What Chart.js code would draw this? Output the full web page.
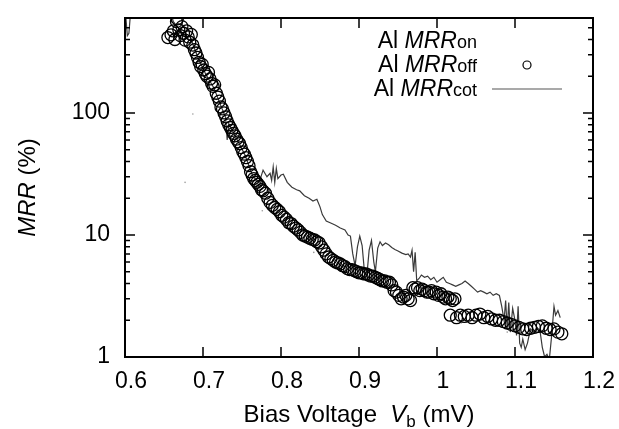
<!DOCTYPE html>
<html>
<head>
<meta charset="utf-8">
<script src="https://cdn.jsdelivr.net/npm/chart.js@4.4.1/dist/chart.umd.min.js"></script>
<style>
  body { margin: 0; background: #fff; }
  canvas { display: block; }
</style>
</head>
<body>
<canvas id="mrrChart" width="619" height="429"></canvas>
<script>
// axis ticks
const xTicks = [0.6, 0.7, 0.8, 0.9, 1.0, 1.1, 1.2];
const yMajor = [1, 10, 100];
const yMinor = [2, 3, 4, 5, 6, 7, 8, 9, 20, 30, 40, 50, 60, 70, 80, 90, 200, 300, 400, 500];

// Al MRR_off (circles)
const offX = [0.655, 0.659, 0.662, 0.664, 0.666, 0.667, 0.669, 0.671, 0.673, 0.675, 0.677, 0.679, 0.681, 0.683, 0.685, 0.687,
  0.689, 0.691, 0.693, 0.695, 0.697, 0.699, 0.701, 0.703, 0.705, 0.707, 0.709, 0.711, 0.713, 0.715, 0.717, 0.719,
  0.721, 0.723, 0.725, 0.727, 0.729, 0.731, 0.733, 0.735, 0.737, 0.739, 0.741, 0.743, 0.745, 0.747, 0.749, 0.751,
  0.753, 0.755, 0.757, 0.759, 0.761, 0.763, 0.765, 0.767, 0.769, 0.771, 0.773, 0.775, 0.777, 0.780, 0.783, 0.786,
  0.789, 0.792, 0.795, 0.798, 0.801, 0.804, 0.807, 0.810, 0.813, 0.816, 0.819, 0.822, 0.825, 0.828, 0.831, 0.834,
  0.837, 0.840, 0.843, 0.846, 0.849, 0.852, 0.855, 0.858, 0.861, 0.864, 0.867, 0.870, 0.873, 0.876, 0.879, 0.882,
  0.885, 0.888, 0.891, 0.894, 0.897, 0.900, 0.903, 0.906, 0.909, 0.912, 0.915, 0.918, 0.921, 0.924, 0.927, 0.930,
  0.933, 0.936, 0.939, 0.942, 0.945, 0.948, 0.951, 0.954, 0.957, 0.960, 0.963, 0.966, 0.969, 0.972, 0.975, 0.978,
  0.981, 0.984, 0.987, 0.990, 0.993, 0.996, 0.999, 1.002, 1.005, 1.008, 1.011, 1.014, 1.017, 1.020, 1.023,
  1.017, 1.025, 1.030, 1.035, 1.040, 1.045, 1.050, 1.055, 1.060, 1.065, 1.070, 1.075, 1.080, 1.085, 1.090, 1.095,
  1.100, 1.105, 1.110, 1.115, 1.120, 1.125, 1.130, 1.135, 1.140, 1.145, 1.150, 1.155, 1.160];
const offY = [415, 437, 470, 400, 560, 590, 480, 430, 510, 450, 395, 470, 420, 380, 440, 360,
  330, 310, 285, 260, 240, 250, 225, 210, 200, 215, 190, 175, 165, 170, 145, 135,
  125, 112, 108, 100, 93, 86, 80, 76, 72, 68, 65, 61, 58, 56, 52, 48,
  46, 43, 40, 37, 33, 31, 29, 28, 27, 26, 25, 23.5, 23, 22, 20, 18.5,
  17.5, 16.8, 16.2, 15.5, 14.5, 14, 13.4, 12.6, 12.4, 11.8, 11.4, 11, 10.5, 10, 9.8, 9.6,
  9.4, 9.2, 9.1, 8.8, 8.6, 8.0, 7.5, 7.0, 6.6, 6.4, 6.2, 6.0, 5.9, 5.8, 5.6, 5.5,
  5.3, 5.2, 5.2, 5.1, 5.0, 4.9, 4.9, 4.8, 4.8, 4.7, 4.6, 4.6, 4.5, 4.4, 4.3, 4.2,
  4.2, 4.1, 4.1, 3.9, 3.5, 3.4, 3.2, 3.0, 3.1, 3.2, 3.0, 2.9, 3.7, 3.6, 3.7, 3.5,
  3.6, 3.5, 3.4, 3.4, 3.5, 3.3, 3.4, 3.2, 3.3, 3.1, 3.0, 3.1, 3.0, 2.9, 3.0,
  2.2, 2.1, 2.2, 2.15, 2.2, 2.1, 2.2, 2.25, 2.1, 2.15, 2.05, 2.0, 2.0, 1.95, 1.9, 1.85,
  1.8, 1.75, 1.7, 1.68, 1.72, 1.75, 1.78, 1.8, 1.72, 1.68, 1.7, 1.6, 1.55];

// Al MRR_cot (grey line)
const cotX = [0.600, 0.601, 0.603, 0.605, 0.607, 0.615, 0.640, 0.655, 0.662, 0.668, 0.676, 0.686, 0.694, 0.704, 0.714,
  0.724, 0.729, 0.731, 0.733, 0.744, 0.754, 0.764, 0.772, 0.777, 0.782, 0.786, 0.788, 0.790, 0.792, 0.794, 0.796,
  0.800, 0.803, 0.808, 0.814, 0.820, 0.824, 0.830, 0.836, 0.841, 0.846, 0.850, 0.853, 0.858, 0.863, 0.870, 0.876,
  0.882, 0.886, 0.889, 0.892, 0.895, 0.898, 0.901, 0.904, 0.907, 0.910, 0.913, 0.916, 0.919, 0.921, 0.924, 0.927,
  0.930, 0.934, 0.938, 0.942, 0.946, 0.950, 0.955, 0.960, 0.963, 0.966, 0.968, 0.970, 0.972, 0.974, 0.977, 0.980,
  0.984, 0.988, 0.992, 0.996, 1.000, 1.004, 1.008, 1.012, 1.016, 1.020, 1.024, 1.028, 1.032, 1.036, 1.040, 1.044,
  1.048, 1.052, 1.056, 1.060, 1.064, 1.068, 1.072, 1.076, 1.080, 1.083, 1.086, 1.088, 1.090, 1.092, 1.094, 1.097,
  1.100, 1.102, 1.104, 1.106, 1.108, 1.110, 1.113, 1.116, 1.118, 1.120, 1.124, 1.128, 1.132, 1.135, 1.138, 1.141,
  1.144, 1.147, 1.150, 1.152, 1.155, 1.158];
const cotY = [800, 620, 430, 450, 650, 900, 900, 800, 560, 500, 430, 380, 280, 205, 160,
  110, 92, 60, 82, 60, 45, 30, 27, 34, 30, 32, 28, 36, 27, 35, 29,
  31, 31.5, 27, 24.6, 23.5, 23, 21, 20, 19, 19.6, 17, 14.7, 13, 12.6, 12, 11.4,
  11, 10, 9.8, 7, 5.6, 8, 9.8, 8.2, 5.0, 4.6, 7.5, 9.0, 6, 5.0, 7.8, 8.8,
  8.2, 8.6, 8.3, 7.9, 7.6, 7.4, 7.1, 6.9, 7.0, 6.6, 7.5, 5.0, 7.2, 4.2, 4.4, 4.7,
  4.5, 4.6, 4.3, 4.5, 4.1, 4.3, 4.5, 4.1, 4.0, 3.9, 3.8, 3.9, 4.0, 4.2, 4.0, 3.8,
  3.6, 3.4, 3.5, 3.4, 3.3, 3.4, 3.2, 3.3, 3.2, 2.6, 2.0, 2.9, 1.7, 2.8, 1.6, 2.5,
  2.0, 1.5, 2.6, 1.3, 1.2, 1.4, 1.15, 1.3, 1.5, 1.7, 1.6, 1.75, 1.65, 1.2, 1.0, 1.05,
  0.95, 1.5, 2.6, 2.2, 2.4, 2.1];

// Al MRR_on (faint dots)
const onX = [0.677, 0.687, 0.776, 0.842, 0.905, 0.958, 1.031, 1.090];
const onY = [27, 98, 15.8, 7.2, 4.3, 2.7, 1.9, 1.6];

const toPts = (xs, ys) => xs.map((x, i) => ({ x: x, y: ys[i] }));

const FONT = '"Liberation Sans", Arial, sans-serif';

const framePlugin = {
  id: 'framePlugin',
  afterDraw(chart) {
    const ctx = chart.ctx;
    const a = chart.chartArea;
    const xs = chart.scales.x, ys = chart.scales.y;
    ctx.save();
    ctx.strokeStyle = '#000';
    ctx.lineWidth = 2;
    ctx.strokeRect(a.left, a.top, a.right - a.left, a.bottom - a.top);
    ctx.lineWidth = 1.5;
    ctx.beginPath();
    xTicks.forEach(v => {
      const px = xs.getPixelForValue(v);
      if (px <= a.left + 1 || px >= a.right - 1) return;
      ctx.moveTo(px, a.bottom); ctx.lineTo(px, a.bottom - 10);
      ctx.moveTo(px, a.top); ctx.lineTo(px, a.top + 10);
    });
    yMajor.forEach(v => {
      const py = ys.getPixelForValue(v);
      ctx.moveTo(a.left, py); ctx.lineTo(a.left + 10, py);
      ctx.moveTo(a.right, py); ctx.lineTo(a.right - 10, py);
    });
    yMinor.forEach(v => {
      const py = ys.getPixelForValue(v);
      ctx.moveTo(a.left, py); ctx.lineTo(a.left + 5, py);
      ctx.moveTo(a.right, py); ctx.lineTo(a.right - 5, py);
    });
    ctx.stroke();

    // axis titles
    ctx.fillStyle = '#000';
    ctx.textBaseline = 'alphabetic';
    ctx.textAlign = 'left';
    const parts = [
      { t: 'Bias Voltage  ', f: '24px ' + FONT, dy: 0 },
      { t: 'V', f: 'italic 24px ' + FONT, dy: 0 },
      { t: 'b', f: '17px ' + FONT, dy: 5 },
      { t: ' (mV)', f: '24px ' + FONT, dy: 0 }
    ];
    let total = 0;
    parts.forEach(p => { ctx.font = p.f; p.w = ctx.measureText(p.t).width; total += p.w; });
    let x0 = (a.left + a.right) / 2 - total / 2;
    parts.forEach(p => { ctx.font = p.f; ctx.fillText(p.t, x0, 422 + p.dy); x0 += p.w; });

    ctx.save();
    ctx.translate(35, (a.top + a.bottom) / 2);
    ctx.rotate(-Math.PI / 2);
    const yp = [
      { t: 'MRR', f: 'italic 24px ' + FONT },
      { t: ' (%)', f: '24px ' + FONT }
    ];
    let yt = 0;
    yp.forEach(p => { ctx.font = p.f; p.w = ctx.measureText(p.t).width; yt += p.w; });
    let y0 = -yt / 2;
    yp.forEach(p => { ctx.font = p.f; ctx.fillText(p.t, y0, 0); y0 += p.w; });
    ctx.restore();

    // legend
    const rows = [
      { sub: 'on', base: 48, mark: null },
      { sub: 'off', base: 72, mark: 'circle' },
      { sub: 'cot', base: 96, mark: 'line' }
    ];
    const rightEdge = 477;
    rows.forEach(r => {
      ctx.font = '18px ' + FONT;
      const ws = ctx.measureText(r.sub).width;
      ctx.font = 'italic 23px ' + FONT;
      const wm = ctx.measureText('MRR').width;
      ctx.font = '23px ' + FONT;
      const wa = ctx.measureText('Al ').width;
      let xx = rightEdge - ws - wm - wa;
      ctx.fillText('Al ', xx, r.base); xx += wa;
      ctx.font = 'italic 23px ' + FONT;
      ctx.fillText('MRR', xx, r.base); xx += wm;
      ctx.font = '18px ' + FONT;
      ctx.fillText(r.sub, xx, r.base);
      if (r.mark === 'circle') {
        ctx.lineWidth = 1.2;
        ctx.strokeStyle = '#000';
        ctx.beginPath();
        ctx.arc(527, r.base - 7, 4, 0, Math.PI * 2);
        ctx.stroke();
      } else if (r.mark === 'line') {
        ctx.lineWidth = 1.2;
        ctx.strokeStyle = '#555';
        ctx.beginPath();
        ctx.moveTo(492, r.base - 7); ctx.lineTo(562, r.base - 7);
        ctx.stroke();
      }
    });
    ctx.restore();
  }
};

new Chart(document.getElementById('mrrChart').getContext('2d'), {
  type: 'scatter',
  data: {
    datasets: [
      {
        label: 'Al MRRoff',
        data: toPts(offX, offY),
        pointStyle: 'circle',
        pointRadius: 6,
        borderColor: '#000',
        borderWidth: 1.3,
        backgroundColor: 'rgba(0,0,0,0)',
        showLine: false
      },
      {
        label: 'Al MRRcot',
        data: toPts(cotX, cotY),
        showLine: true,
        borderColor: '#3a3a3a',
        borderWidth: 1.2,
        pointRadius: 0,
        tension: 0
      },
      {
        label: 'Al MRRon',
        data: toPts(onX, onY),
        pointRadius: 0.8,
        borderWidth: 0,
        backgroundColor: '#999',
        showLine: false
      }
    ]
  },
  options: {
    responsive: false,
    animation: false,
    layout: { padding: { left: 0, right: 26, top: 18, bottom: 0 } },
    plugins: {
      legend: { display: false },
      tooltip: { enabled: false }
    },
    scales: {
      x: {
        type: 'linear',
        min: 0.6,
        max: 1.2,
        afterBuildTicks: s => { s.ticks = xTicks.map(v => ({ value: v })); },
        afterFit: s => { s.height = 72; s.paddingLeft = 0; s.paddingRight = 0; },
        grid: { display: false, drawTicks: false },
        border: { display: false },
        ticks: {
          padding: 11,
          labelOffset: 6,
          color: '#000',
          font: { family: FONT, size: 23 },
          maxRotation: 0,
          callback: v => String(Number(v.toFixed(1)))
        }
      },
      y: {
        type: 'logarithmic',
        min: 1,
        max: 600,
        afterBuildTicks: s => { s.ticks = yMajor.map(v => ({ value: v })); },
        afterFit: s => { s.width = 125; s.paddingTop = 0; s.paddingBottom = 0; },
        grid: { display: false, drawTicks: false },
        border: { display: false },
        ticks: {
          padding: 15,
          color: '#000',
          font: { family: FONT, size: 23 },
          callback: v => String(v)
        }
      }
    }
  },
  plugins: [framePlugin]
});
</script>
</body>
</html>
